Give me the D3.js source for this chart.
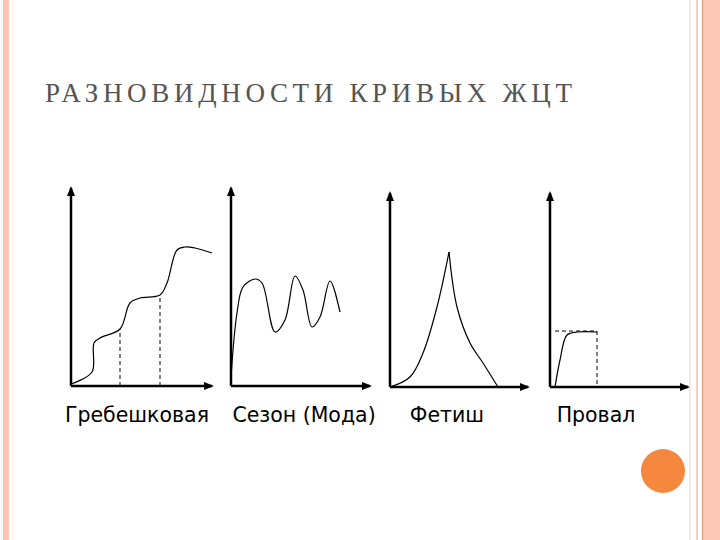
<!DOCTYPE html>
<meta charset="utf-8">
<style>
	body { margin:0; background:#fff; }
	svg { display:block; }
</style>
<script src="https://d3js.org/d3.v7.min.js"></script>
<body>
<script>
	// curve points (x, y in axis units)
	var comb = [[0,2],[21,14],[23,43],[29,48],[49,57],[59,83],[69,88],[89,91],[96,103],[106,136],[114,139],[124,138],[141,133]];
	var combDrops = [[49,57],[89,91]];
	var season = [[0,9],[6,73],[12,99],[24,107],[31,103],[44,54],[54,66],[64,110],[72,96],[81,59],[89,69],[99,105],[109,74]];
	var fetishUp = [[0,0],[20,10],[33,34],[47,80],[59,135]];
	var fetishDown = [[59,135],[67,80],[80,44],[93,24],[108,0]];
	var flop = [[5,0],[10,27],[17,52],[27,55],[47,55]];
	var flopLevel = 56, flopEnd = 47;
	var labels = ["Гребешковая", "Сезон (Мода)", "Фетиш", "Провал"];

	var svg = d3.select("body").append("svg").attr("width", 720).attr("height", 540);

	// slide decoration
	svg.append("rect").attr("x", 3).attr("y", 0).attr("width", 6).attr("height", 540).attr("fill", "#f9c7b3");
	svg.append("line").attr("x1", 13).attr("x2", 13).attr("y1", 0).attr("y2", 540).attr("stroke", "#fbe3d8");
	svg.append("rect").attr("x", 702).attr("y", 0).attr("width", 18).attr("height", 540).attr("fill", "#fdc8b6");
	svg.append("line").attr("x1", 702.5).attr("x2", 702.5).attr("y1", 0).attr("y2", 540).attr("stroke", "#e9967a");
	svg.append("line").attr("x1", 697).attr("x2", 697).attr("y1", 0).attr("y2", 540).attr("stroke", "#f0d2c0").attr("stroke-width", 2);
	svg.append("line").attr("x1", 690).attr("x2", 690).attr("y1", 0).attr("y2", 540).attr("stroke", "#f3e2d6").attr("stroke-width", 1.5);
	svg.append("circle").attr("cx", 663).attr("cy", 471).attr("r", 22).attr("fill", "#f5873f");

	svg.append("text").attr("x", 45).attr("y", 102)
		.attr("font-family", "Liberation Serif, serif").attr("font-size", 27)
		.attr("textLength", 527).attr("lengthAdjust", "spacing")
		.attr("fill", "#555").text("РАЗНОВИДНОСТИ КРИВЫХ ЖЦТ");

	svg.append("defs").append("marker").attr("id", "arr")
		.attr("viewBox", "0 0 10 10").attr("refX", 8).attr("refY", 5)
		.attr("markerWidth", 4).attr("markerHeight", 4).attr("orient", "auto")
		.append("path").attr("d", "M0,1L10,5L0,9Z").attr("fill", "#000");

	function panel(ox, oy, xLen, yLen) {
		var x = d3.scaleLinear().domain([0, xLen]).range([ox, ox + xLen]);
		var y = d3.scaleLinear().domain([0, yLen]).range([oy, oy - yLen]);
		var g = svg.append("g");
		g.append("line").attr("x1", ox).attr("y1", oy).attr("x2", ox).attr("y2", oy - yLen)
			.attr("stroke", "#000").attr("stroke-width", 2.5).attr("marker-end", "url(#arr)");
		g.append("line").attr("x1", ox).attr("y1", oy).attr("x2", ox + xLen).attr("y2", oy)
			.attr("stroke", "#000").attr("stroke-width", 2.5).attr("marker-end", "url(#arr)");
		return {g: g, x: x, y: y};
	}

	function curve(p, pts) {
		var line = d3.line().x(function(d) {return p.x(d[0])}).y(function(d) {return p.y(d[1])})
			.curve(d3.curveCatmullRom);
		p.g.append("path").attr("d", line(pts)).attr("fill", "none").attr("stroke", "#000").attr("stroke-width", 1.2);
	}

	function dash(p, x1, y1, x2, y2) {
		p.g.append("line").attr("x1", p.x(x1)).attr("y1", p.y(y1)).attr("x2", p.x(x2)).attr("y2", p.y(y2))
			.attr("stroke", "#000").attr("stroke-dasharray", "4,3").attr("stroke-width", 1);
	}

	var p1 = panel(71, 386, 141, 198);
	curve(p1, comb);
	combDrops.forEach(function(d) { dash(p1, d[0], 0, d[0], d[1]); });

	var p2 = panel(231, 386, 139, 198);
	curve(p2, season);

	var p3 = panel(390, 387, 138, 194);
	curve(p3, fetishUp);
	curve(p3, fetishDown);

	var p4 = panel(550, 387, 138, 194);
	curve(p4, flop);
	dash(p4, 5, flopLevel, flopEnd, flopLevel);
	dash(p4, flopEnd, flopLevel, flopEnd, 0);

	var labelX = [137, 304, 447, 596];
	labels.forEach(function(t, i) {
		svg.append("text").attr("x", labelX[i]).attr("y", 422).attr("text-anchor", "middle")
			.attr("font-family", "DejaVu Sans, sans-serif").attr("font-size", 20.5).text(t);
	});
</script>
</body>
